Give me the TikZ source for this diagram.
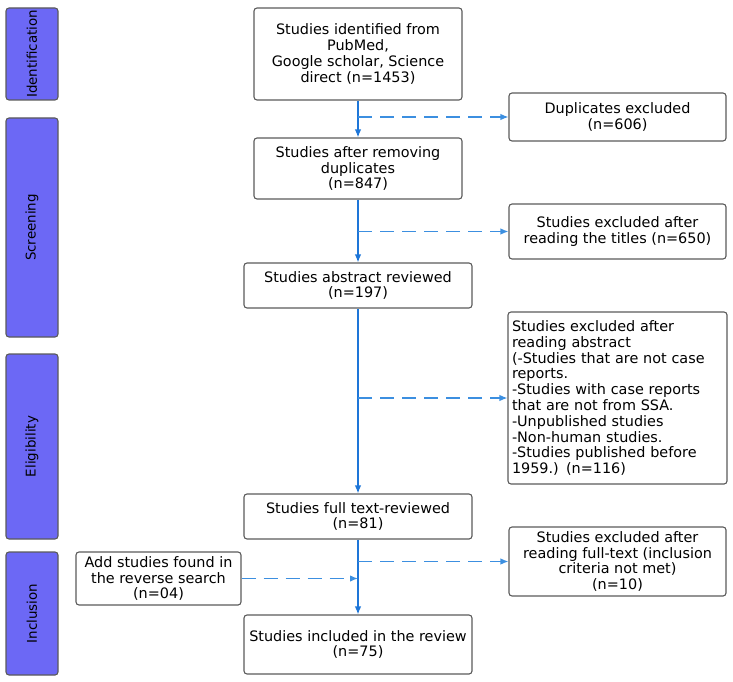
\documentclass[tikz,border=0pt]{standalone}
\usepackage{fontspec}
\setmainfont{DejaVu Sans}
\usetikzlibrary{arrows.meta}
\definecolor{phaseblue}{RGB}{108,104,245}
\definecolor{flowblue}{RGB}{30,118,216}
\definecolor{dashblue}{RGB}{60,143,224}
\definecolor{boxgray}{RGB}{90,90,90}
\begin{document}
\begin{tikzpicture}[x=1pt, y=-1pt,
  every node/.style={font=\fontsize{14.4}{15.8}\selectfont},
  box/.style={draw=boxgray, line width=1.1pt, rounded corners=3pt, align=center, inner sep=2pt},
  phase/.style={box, fill=phaseblue, minimum height=52pt, rotate=90, font=\fontsize{13.4}{15}\selectfont},
  flow/.style={draw=flowblue, line width=1.3pt, -{Latex[length=8pt,width=6.5pt]}},
  skip/.style={flow, draw=dashblue, dash pattern=on 14pt off 8pt}]
\useasboundingbox (0,0) rectangle (733,682);
% phases
\node[phase, minimum width=92pt] (ident) at (32,54) {Identification};
\node[phase, minimum width=219pt] (screen) at (32,227.5) {Screening};
\node[phase, minimum width=185pt] (elig) at (32,446.5) {Eligibility};
\node[phase, minimum width=123pt] (incl) at (32,613.5) {Inclusion};
% main column
\node[box, minimum width=208pt, minimum height=92pt] (found) at (358,54) {Studies identified from\\PubMed,\\Google scholar, Science\\direct (n=1453)};
\node[box, minimum width=208pt, minimum height=61pt] (dedup) at (358,168.5) {Studies after removing\\duplicates\\(n=847)};
\node[box, minimum width=228pt, minimum height=45pt] (abstr) at (358,285.5) {Studies abstract reviewed\\(n=197)};
\node[box, minimum width=228pt, minimum height=45pt] (fulltxt) at (358,516.5) {Studies full text-reviewed\\(n=81)};
\node[box, minimum width=228pt, minimum height=59pt] (incld) at (358,644.5) {Studies included in the review\\(n=75)};
% side boxes
\node[box, minimum width=217pt, minimum height=48pt] (dupx) at (617.5,117) {Duplicates excluded\\(n=606)};
\node[box, minimum width=217pt, minimum height=55pt] (titlex) at (617.5,231.5) {Studies excluded after\\reading the titles (n=650)};
\node[box, align=left, text width=211pt, inner xsep=4pt, minimum height=172pt] (abstrx) at (617.5,398) {Studies excluded after\\reading abstract\\(-Studies that are not case\\reports.\\-Studies with case reports\\that are not from SSA.\\-Unpublished studies\\-Non-human studies.\\-Studies published before\\1959.) (n=116)};
\node[box, minimum width=217pt, minimum height=69pt] (fullx) at (617.5,561.5) {Studies excluded after\\reading full-text (inclusion\\criteria not met)\\(n=10)};
\node[box, minimum width=165pt, minimum height=53pt] (rev) at (158.5,578.5) {Add studies found in\\the reverse search\\(n=04)};
% arrows
\draw[flow] (found) -- (dedup); \draw[flow] (dedup) -- (abstr);
\draw[flow] (abstr) -- (fulltxt); \draw[flow] (fulltxt) -- (incld);
\draw[skip] (dupx.west -| found.south) -- (dupx.west);
\draw[skip] (titlex.west -| found.south) -- (titlex.west);
\draw[skip] (abstrx.west -| found.south) -- (abstrx.west);
\draw[skip] (fullx.west -| found.south) -- (fullx.west);
\draw[skip] (rev.east) -- (rev.east -| incld.north);
\end{tikzpicture}
\end{document}
